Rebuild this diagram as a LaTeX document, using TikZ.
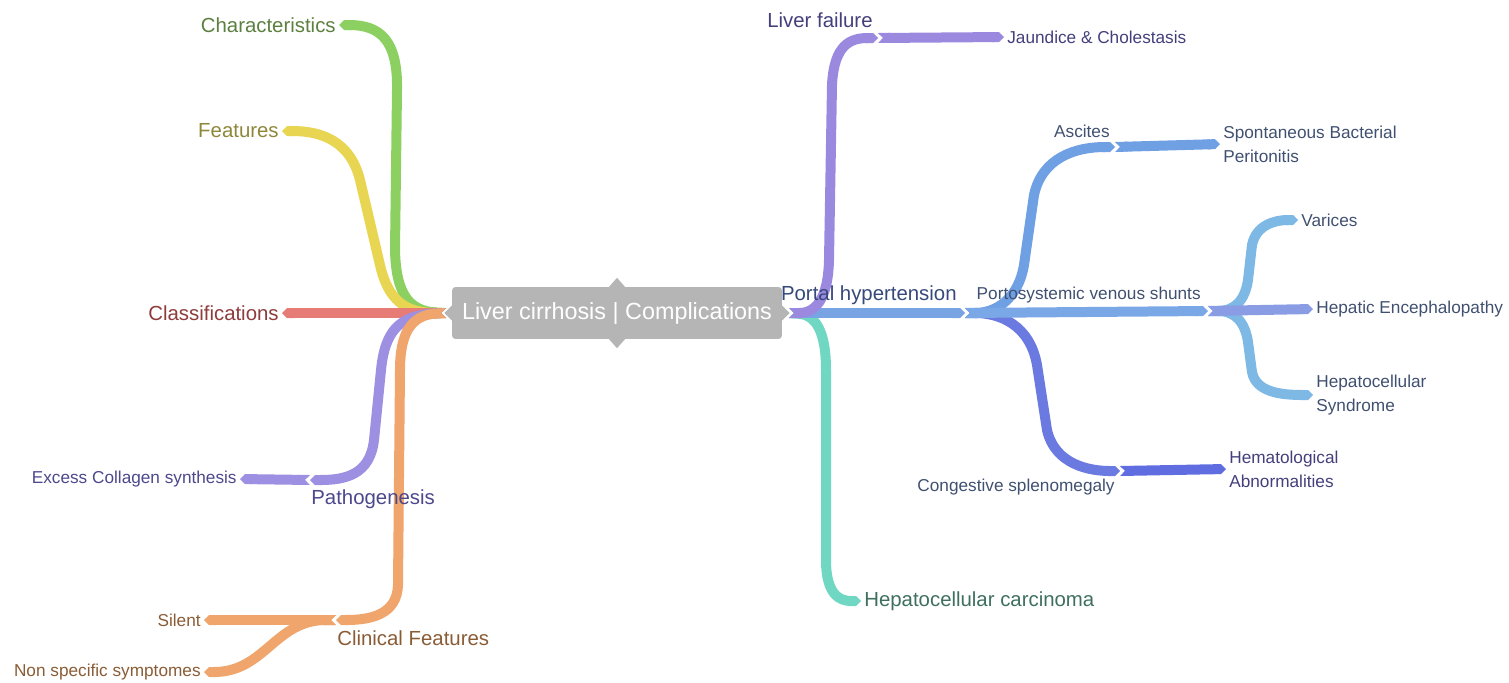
\documentclass[tikz,border=0pt]{standalone}
\usepackage{fontspec}
\setmainfont{Liberation Sans}
\usetikzlibrary{arrows.meta,shapes.geometric}

\definecolor{rootgray}{HTML}{B5B5B5}
\definecolor{bgreen}{HTML}{8DD062}
\definecolor{byellow}{HTML}{E8D552}
\definecolor{bred}{HTML}{E67C75}
\definecolor{bpurple}{HTML}{9D90E2}
\definecolor{borange}{HTML}{EFA56C}
\definecolor{bviolet}{HTML}{9B88DF}
\definecolor{bblue}{HTML}{79A4E4}
\definecolor{bteal}{HTML}{70D7C3}
\definecolor{basc}{HTML}{6EA0E3}
\definecolor{bshunt}{HTML}{7AA8E7}
\definecolor{blight}{HTML}{7EB8E5}
\definecolor{bperi}{HTML}{8A9DE4}
\definecolor{bindigo}{HTML}{6A7AE1}
\definecolor{bdeep}{HTML}{5F6DE0}
\definecolor{tgreen}{HTML}{5C8040}
\definecolor{tolive}{HTML}{8E873A}
\definecolor{tred}{HTML}{8E3C3C}
\definecolor{tpurple}{HTML}{4B488C}
\definecolor{tbrown}{HTML}{8A5C35}
\definecolor{tviolet}{HTML}{433F7C}
\definecolor{tnavy}{HTML}{36497A}
\definecolor{tslate}{HTML}{405070}
\definecolor{tteal}{HTML}{3E6F5F}

\tikzset{
  band/.style={line width=0.2cm, {Triangle Cap[reversed]}-{Triangle Cap}},
  rootbox/.style={rectangle, rounded corners=2pt, fill=rootgray, text=white,
    minimum width=6.6cm, minimum height=1.04cm, text depth=0.35ex, font=\fontsize{13.3}{15}\selectfont},
  handle/.style={diamond, fill=rootgray, inner sep=0pt, minimum width=0.32cm, minimum height=0.36cm},
  lvlone/.style={inner sep=0.06cm, font=\fontsize{11.6}{13}\selectfont},
  lvltwo/.style={inner sep=0.06cm, align=left, font=\fontsize{9.8}{13.5}\selectfont}
}

\begin{document}
\begin{tikzpicture}[x=0.02cm, y=-0.02cm]
\useasboundingbox (0,0) rectangle (1509,683);

\coordinate (rootL) at (446,313);
\coordinate (rootR) at (789,313);
\coordinate (patho) at (310,480);
\coordinate (clinical) at (336,620);
\coordinate (lfail) at (878,38);
\coordinate (portal) at (965,313);
\coordinate (ascites) at (1115,147);
\coordinate (shunts) at (1208,311);
\coordinate (congest) at (1120,471);

\node[lvlone, text=tgreen, anchor=east] (chars) at (339,25) {Characteristics};
\node[lvlone, text=tolive, anchor=east] (feats) at (282,131) {Features};
\node[lvlone, text=tred, anchor=east] (classif) at (282,313) {Classifications};
\node[lvltwo, text=tpurple, anchor=east] (collagen) at (240,479) {Excess Collagen synthesis};
\node[lvltwo, text=tbrown, anchor=east] (silent) at (204,620) {Silent};
\node[lvltwo, text=tbrown, anchor=east] (nonspec) at (204,672) {Non specific symptomes};
\node[lvltwo, text=tviolet, anchor=west] (jaundice) at (1004,37) {Jaundice \& Cholestasis};
\node[lvltwo, text=tslate, anchor=west] (sbp) at (1220,144) {Spontaneous Bacterial\\Peritonitis};
\node[lvltwo, text=tslate, anchor=west] (varices) at (1298,220) {Varices};
\node[lvltwo, text=tslate, anchor=west] (hepenc) at (1313,309) {Hepatic Encephalopathy};
\node[lvltwo, text=tslate, anchor=west] (hcs) at (1313,395) {Hepatocellular\\Syndrome};
\node[lvltwo, text=tviolet, anchor=west] (hemat) at (1226,469) {Hematological\\Abnormalities};
\node[lvlone, text=tteal, anchor=west] (carcinoma) at (861,601) {Hepatocellular carcinoma};

\draw[band, bgreen] (rootL) .. controls (410,311) and (396,295) .. (395,250) -- (397,90) .. controls (398,40) and (380,25) .. (chars.east);
\draw[band, byellow] (rootL) .. controls (405,313) and (388,300) .. (380,265) -- (360,180) .. controls (350,140) and (320,131) .. (feats.east);
\draw[band, bred] (rootL) -- (classif.east);
\draw[band, bpurple] (rootL) .. controls (400,315) and (385,330) .. (381,370) -- (374,440) .. controls (370,475) and (345,480) .. (patho);
\draw[band, bpurple] (patho) -- (collagen.east);
\draw[band, borange] (rootL) .. controls (410,315) and (400,335) .. (400,370) -- (398,585) .. controls (397,615) and (370,620) .. (clinical);
\draw[band, borange] (clinical) -- (silent.east);
\draw[band, borange] (clinical) .. controls (275,620) and (265,672) .. (nonspec.east);

\draw[band, bteal] (rootR) .. controls (815,315) and (826,330) .. (826,370) -- (826,560) .. controls (826,595) and (840,601) .. (carcinoma.west);
\draw[band, bblue] (rootR) -- (portal);
\draw[band, bviolet] (rootR) .. controls (815,313) and (828,300) .. (829,260) -- (832,85) .. controls (834,45) and (850,38) .. (lfail);
\draw[band, bviolet] (lfail) -- (jaundice.west);
\draw[band, basc] (portal) .. controls (995,313) and (1018,300) .. (1024,265) -- (1034,195) .. controls (1042,158) and (1075,147) .. (ascites);
\draw[band, basc] (ascites) -- (sbp.west);
\draw[band, bindigo] (portal) .. controls (1000,313) and (1030,325) .. (1037,365) -- (1047,430) .. controls (1055,465) and (1090,471) .. (congest);
\draw[band, bdeep] (congest) -- (hemat.west);
\draw[band, bshunt] (portal) -- (shunts);
\draw[band, blight] (shunts) .. controls (1235,311) and (1245,300) .. (1248,280) -- (1252,245) .. controls (1256,225) and (1275,220) .. (varices.west);
\draw[band, blight] (shunts) .. controls (1235,311) and (1245,322) .. (1248,342) -- (1252,372) .. controls (1256,392) and (1280,395) .. (hcs.west);
\draw[band, bperi] (shunts) -- (hepenc.west);

\node[rootbox] (root) at (617,313) {Liver cirrhosis | Complications};
\node[handle] (hup) at (root.north) {};
\node[handle] (hdown) at (root.south) {};
\node[handle, minimum width=0.3cm, minimum height=0.3cm] (hleft) at (root.west) {};
\node[handle, minimum width=0.3cm, minimum height=0.3cm] (hright) at (root.east) {};

\node[lvlone, text=tpurple, anchor=west] (patholab) at (308,499) {Pathogenesis};
\node[lvlone, text=tbrown, anchor=west] (clinicallab) at (334,638) {Clinical Features};
\node[lvlone, text=tviolet, anchor=east] (lfaillab) at (876,20) {Liver failure};
\node[lvlone, text=tnavy, anchor=east] (portallab) at (960,295) {Portal hypertension};
\node[lvltwo, text=tslate, anchor=east] (asciteslab) at (1113,131) {Ascites};
\node[lvltwo, text=tslate, anchor=east] (shuntslab) at (1204,295) {Portosystemic venous shunts};
\node[lvltwo, text=tslate, anchor=east] (congestlab) at (1118,487) {Congestive splenomegaly};
\end{tikzpicture}
\end{document}
